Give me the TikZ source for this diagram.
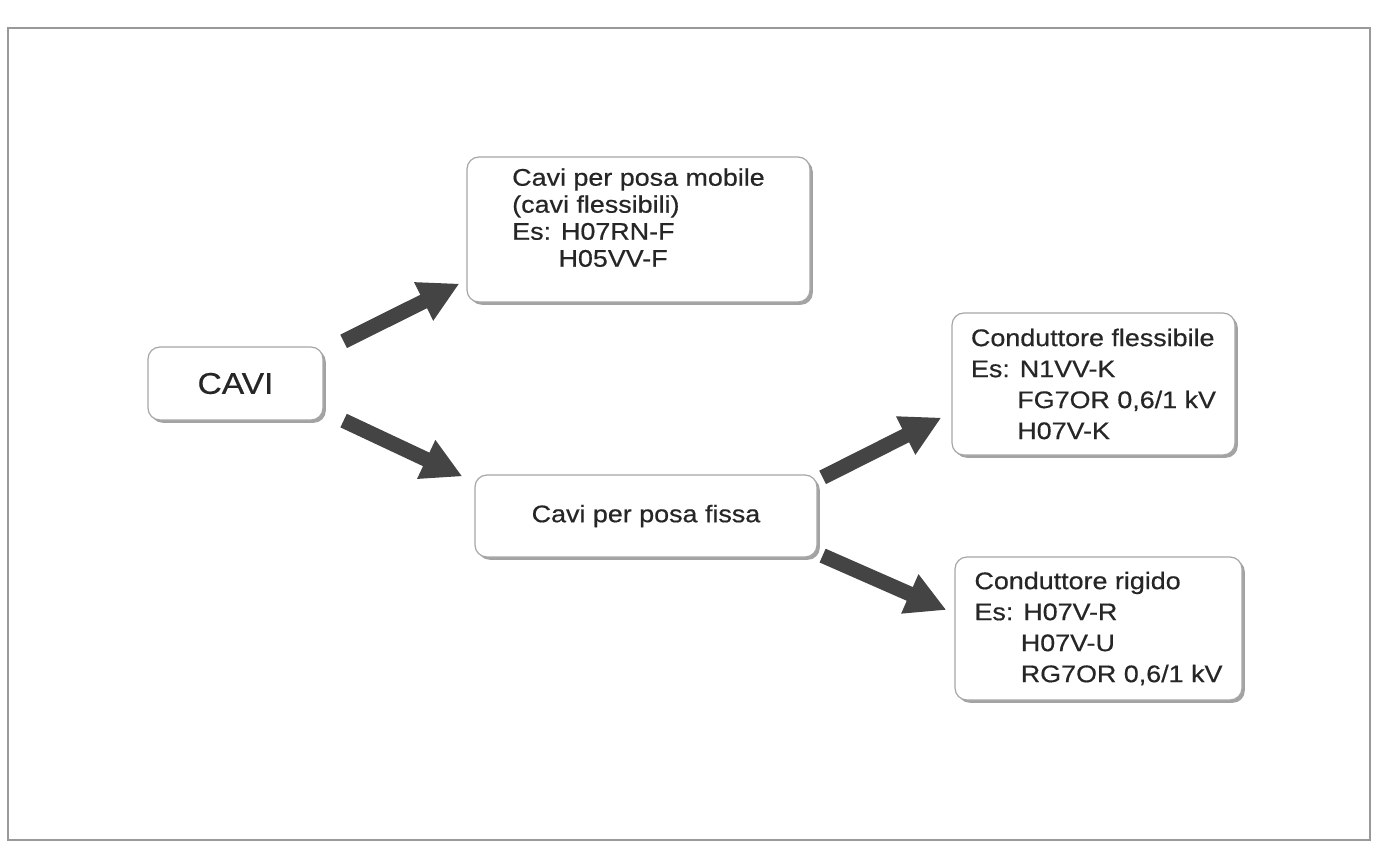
\documentclass[tikz,border=0pt]{standalone}
\usepackage{fontspec}
\setmainfont{Liberation Sans}[FakeStretch=1.12, FakeBold=0.5]
\usetikzlibrary{arrows.meta, calc, shadows}

\definecolor{inkgray}{HTML}{262626}
\definecolor{arrowgray}{HTML}{444444}
\newcommand{\esindent}{\phantom{Es:\ }}

\begin{document}
\begin{tikzpicture}[x=0.5pt, y=-0.5pt,
    box/.style={draw=gray!70, line width=0.6pt, rounded corners=6pt, fill=white,
        text=inkgray, inner sep=0pt,
        drop shadow={shadow xshift=1.4pt, shadow yshift=-1.4pt, fill=black!60, opacity=0.6}},
    listbox/.style={box, align=left},
    bigarrow/.style={-{Triangle[length=20pt, width=20pt]}, line width=7.5pt, arrowgray},
]
    \useasboundingbox (0,0) rectangle (1381,850);

    % Outer frame
    \draw[gray!80, line width=0.8pt] (8,28) rectangle (1370,840);

    % Boxes
    \node[box, font=\fontsize{15}{18}\selectfont, minimum width=87.5pt, minimum height=36.5pt]
        (cavi) at (235.5,383.5) {CAVI};
    \node[listbox, font=\fontsize{12}{13.5}\selectfont, minimum width=171.5pt, minimum height=72.5pt,
        text depth=12pt]
        (mobile) at (638.5,229.5)
        {Cavi per posa mobile\\(cavi flessibili)\\Es: H07RN-F\\\esindent H05VV-F};
    \node[box, font=\fontsize{12}{14}\selectfont, minimum width=171pt, minimum height=41pt]
        (fissa) at (646,516) {Cavi per posa fissa};
    \node[listbox, font=\fontsize{12}{15.5}\selectfont, minimum width=141.5pt, minimum height=71pt]
        (flex) at (1093.5,384)
        {Conduttore flessibile\\Es: N1VV-K\\\esindent FG7OR 0,6/1 kV\\\esindent H07V-K};
    \node[listbox, font=\fontsize{12}{15.5}\selectfont, minimum width=143.5pt, minimum height=71.5pt]
        (rigid) at (1098.5,628.5)
        {Conduttore rigido\\Es: H07V-R\\\esindent H07V-U\\\esindent RG7OR 0,6/1 kV};

    % Arrows
    \draw[bigarrow] ($(cavi.north east)+(20,-5)$) -- ($(mobile.south west)+(-7,-19)$);
    \draw[bigarrow] ($(cavi.south east)+(20,0)$) -- ($(fissa.north west)+(-12,2)$);
    \draw[bigarrow] ($(fissa.north east)+(5,3)$) -- ($(flex.south west)+(-10,-38)$);
    \draw[bigarrow] ($(fissa.south east)+(5,-2)$) -- ($(rigid.west)+(-8,-18.5)$);
\end{tikzpicture}
\end{document}
